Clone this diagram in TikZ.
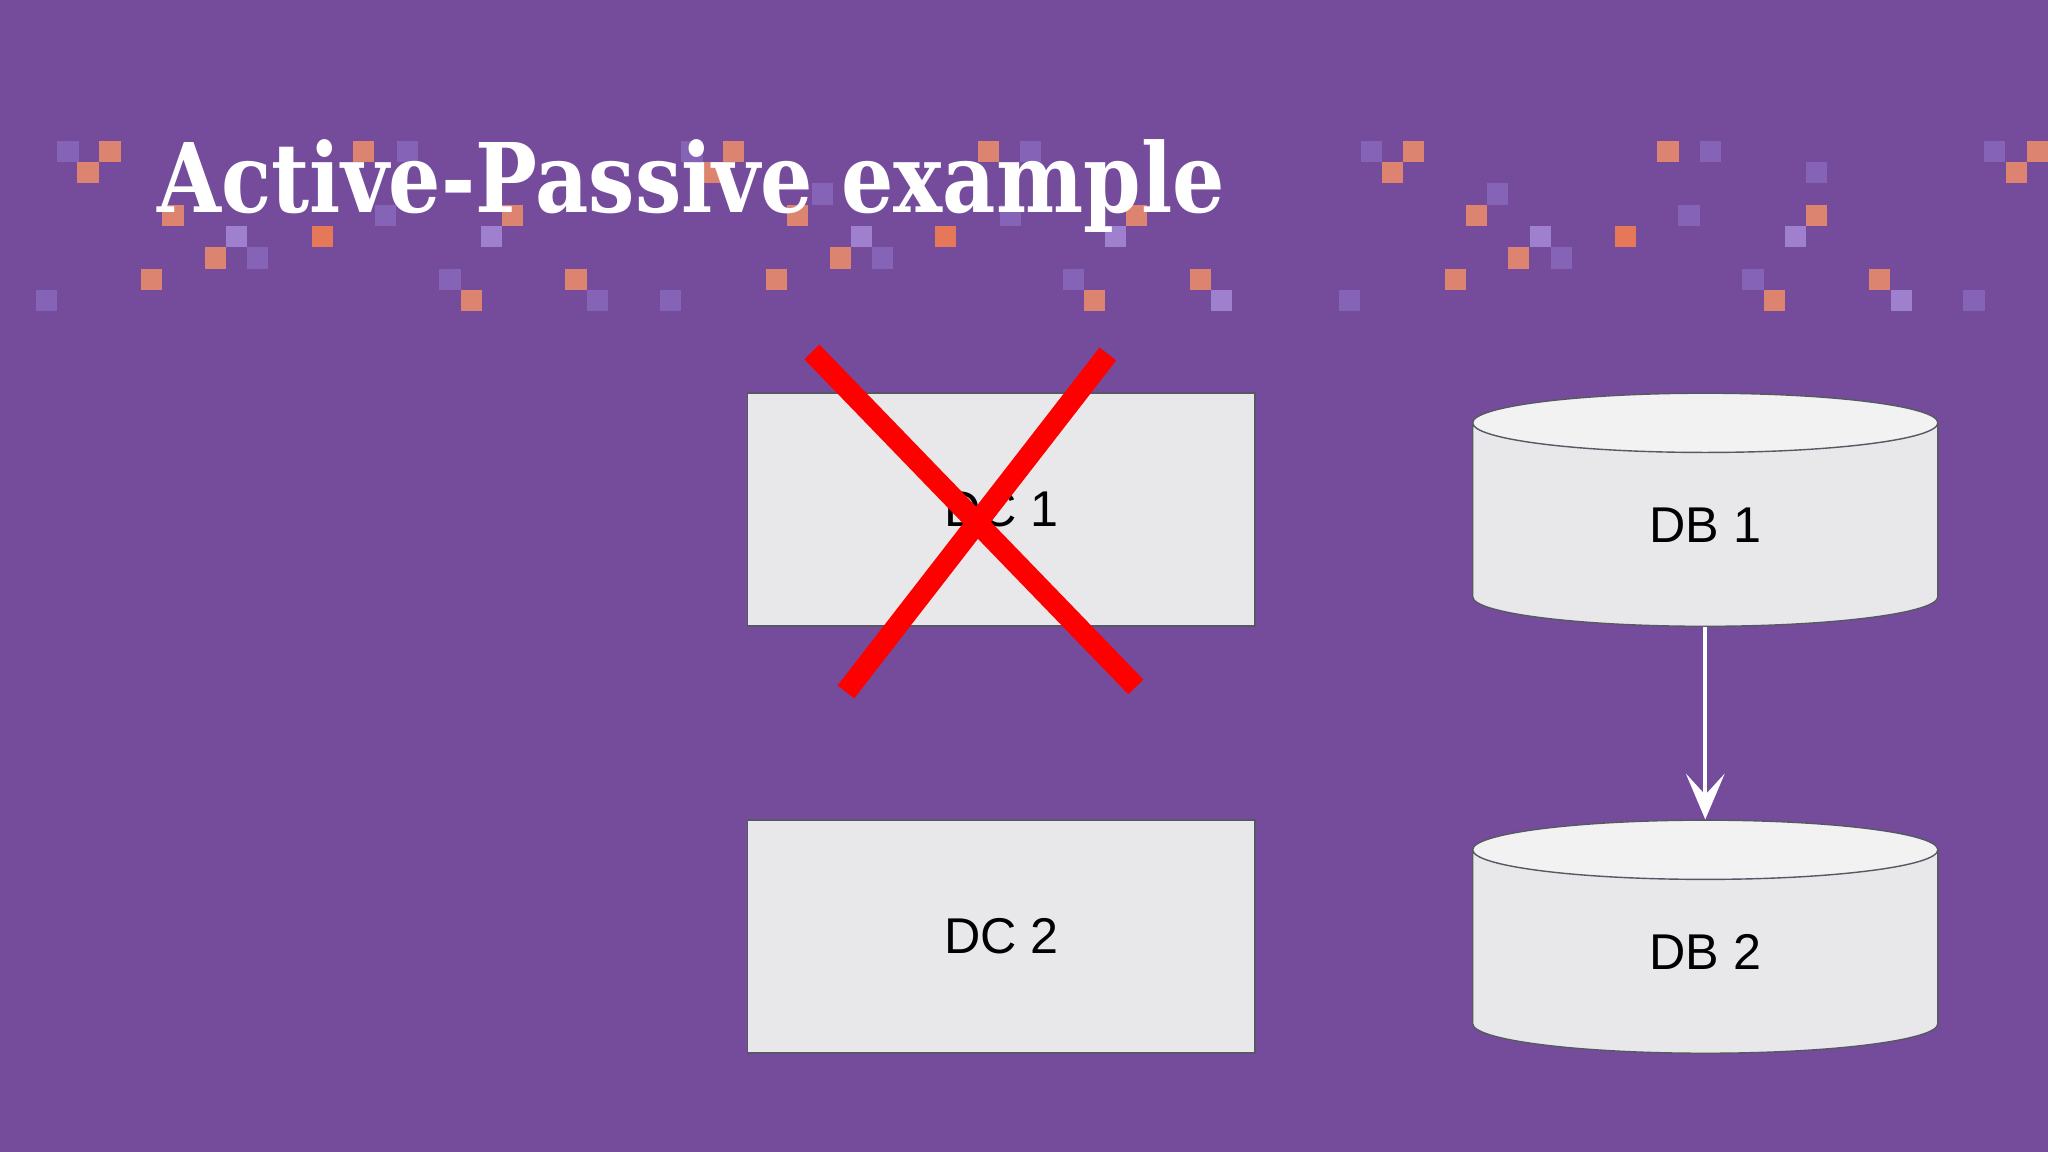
\documentclass[tikz,border=0pt]{standalone}
\usepackage{fontspec}
\usepackage{graphicx}
\setmainfont{Liberation Sans}
\newfontfamily\titlefont{DejaVu Serif}
\usetikzlibrary{shapes.geometric,arrows.meta}
\definecolor{slidebg}{RGB}{117,76,156}
\definecolor{pixorange}{RGB}{221,132,112}
\definecolor{pixhot}{RGB}{228,120,88}
\definecolor{pixlight}{RGB}{158,128,206}
\definecolor{pixfaint}{RGB}{133,100,184}
\definecolor{boxfill}{RGB}{232,231,234}
\definecolor{capfill}{RGB}{242,242,243}
\definecolor{boxline}{RGB}{88,88,100}
\tikzset{
  dcbox/.style={draw=boxline,fill=boxfill,line width=0.4pt,inner sep=0pt,
    minimum width=5.07cm,minimum height=2.33cm,font=\fontsize{14.3}{17}\selectfont},
  dbcyl/.style={cylinder,shape border rotate=90,draw=boxline,line width=0.4pt,
    cylinder uses custom fill,cylinder body fill=boxfill,cylinder end fill=capfill,
    aspect=0.53,inner sep=0pt,minimum width=4.65cm,minimum height=2.33cm,
    font=\fontsize{14.3}{17}\selectfont},
  crossout/.style={red,line width=6pt},
  repl/.style={white,line width=1.2pt,-{Stealth[length=13pt,width=11pt,inset=6pt]}}
}
\begin{document}
\begin{tikzpicture}[x=0.01cm,y=-0.01cm]
  \fill[slidebg] (0,0) rectangle (2048,1152);
  \foreach \x/\r in {57.3/0,247/5,35.7/7,397/0,374.7/3,439.3/6,681.3/0,812/2,872.3/5,659.7/7,587/7,1020/0,1000/3,1063/6,1360.7/0,1339/7,1487.3/2,1700.3/0,1806/1,1678.7/3,1551/5,1742.7/6,1963.7/7,1984.3/0}
    \fill[pixfaint] (\x,140.7+21.33*\r) rectangle ++(21.3,21.3);
  \foreach \x/\r in {225.7/4,481/4,851/4,1105/4,1530/4,1785/4,1211.3/7,1891/7}
    \fill[pixlight] (\x,140.7+21.33*\r) rectangle ++(21.3,21.3);
  \foreach \x/\r in {99.3/0,77.3/1,162.3/3,205/5,141/6,353/0,502/3,460.7/7,723/0,701.7/1,787/3,829.7/5,765.7/6,565.3/6,977.7/0,1126.3/3,1084.3/7,1190/6,1403/0,1382/1,1466/3,1508.3/5,1444.7/6,1657.7/0,1806/3,1764/7,1869.3/6,2027/0,2006/1}
    \fill[pixorange] (\x,140.7+21.33*\r) rectangle ++(21.3,21.3);
  \foreach \x/\r in {311.7/4,935.3/4,1615/4}
    \fill[pixhot] (\x,140.7+21.33*\r) rectangle ++(21.3,21.3);
  \node[anchor=base west,inner sep=0pt,text=white,font=\titlefont\bfseries\fontsize{27.3}{30}\selectfont] (title) at (157,213) {\scalebox{0.858}[1]{Active-Passive example}};
  \node[dcbox] (dc1) at (1001.5,509.5) {DC 1};
  \node[dcbox] (dc2) at (1001.5,936.5) {DC 2};
  \node[dbcyl] (db1) at (1705.5,525) {DB 1};
  \node[dbcyl] (db2) at (1705.5,952) {DB 2};
  \draw[repl] (db1.south) -- (db2.north);
  \coordinate (xa) at (812,352);
  \coordinate (xb) at (1136,687);
  \coordinate (xc) at (1108,354);
  \coordinate (xd) at (846,692);
  \draw[crossout] (xa) -- (xb);
  \draw[crossout] (xc) -- (xd);
\end{tikzpicture}
\end{document}
